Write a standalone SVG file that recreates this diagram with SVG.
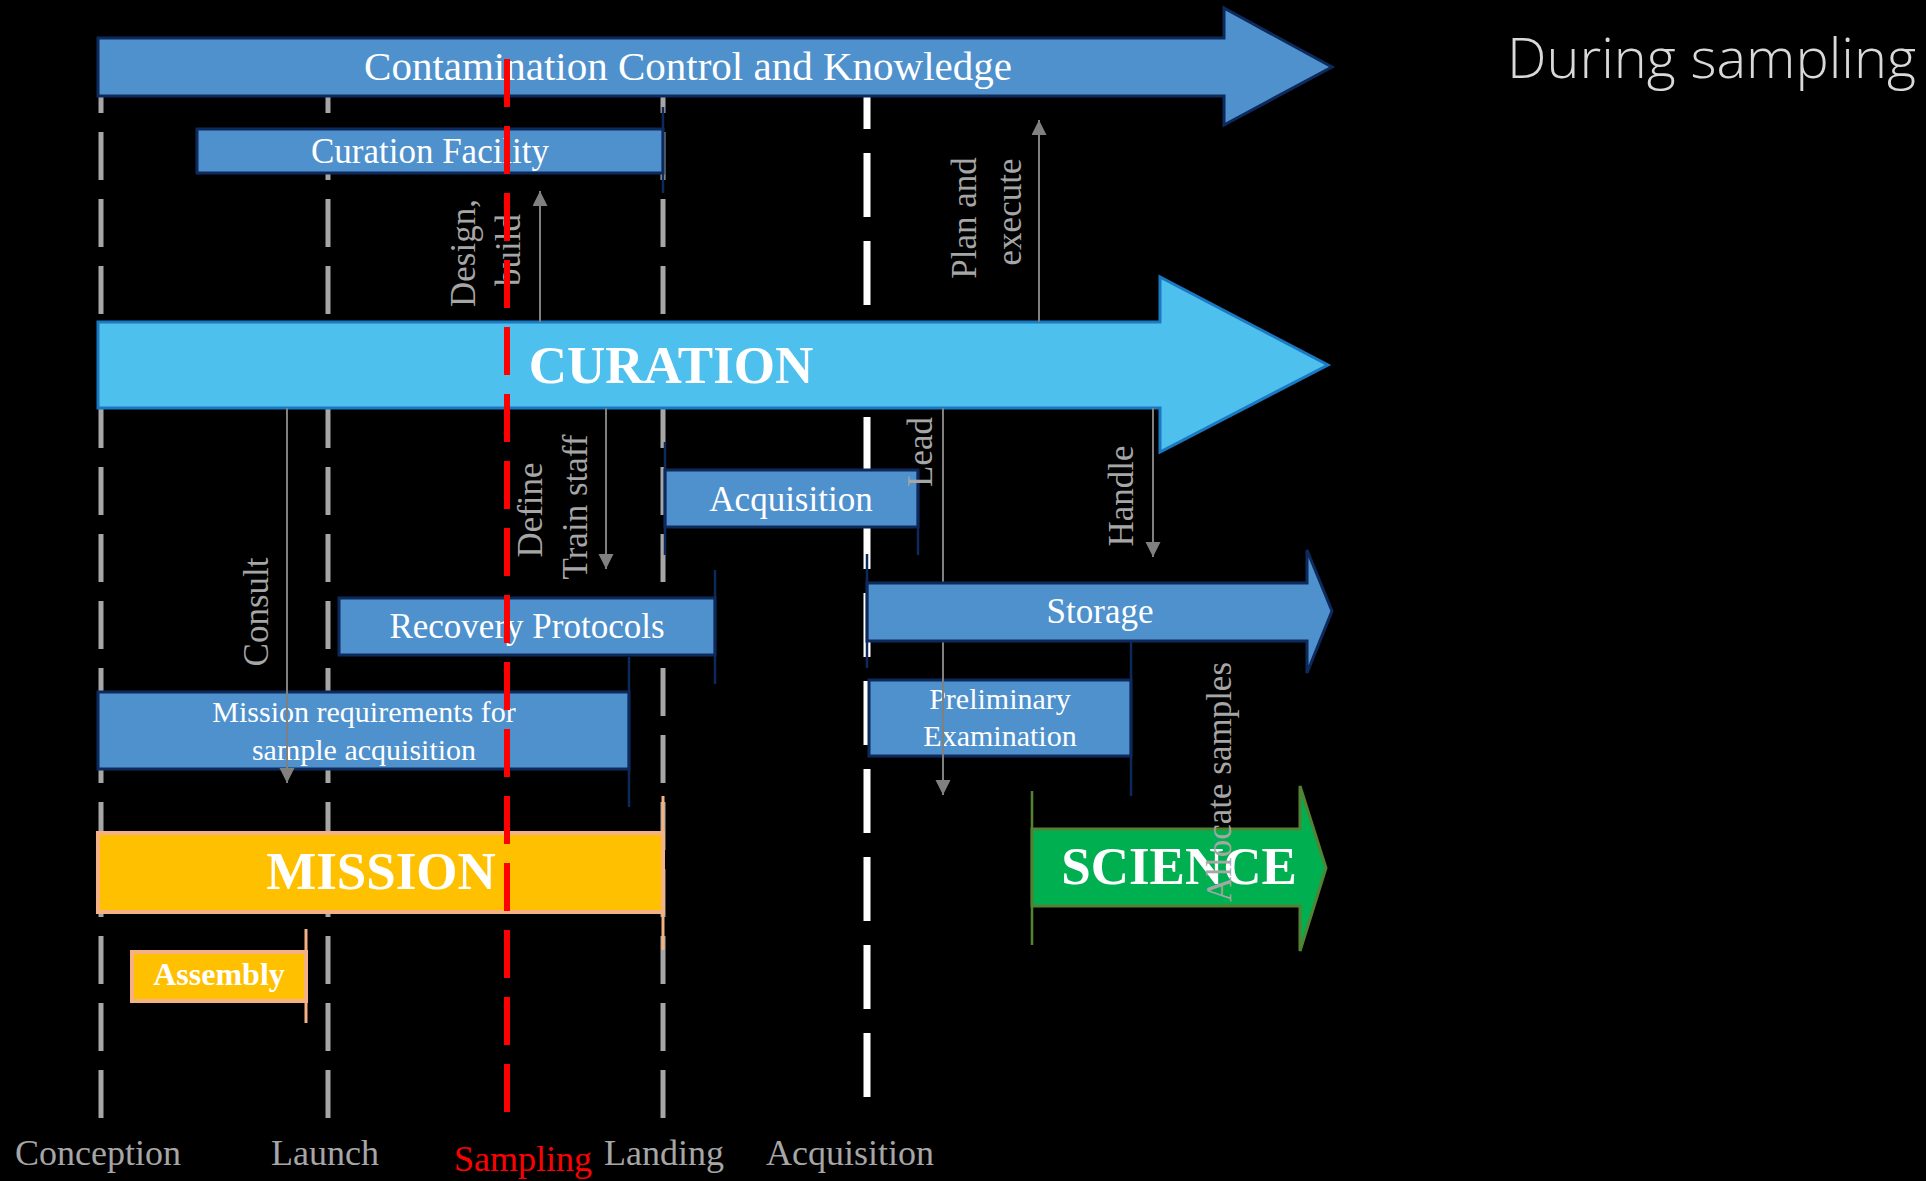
<svg xmlns="http://www.w3.org/2000/svg" width="1926" height="1181" viewBox="0 0 1926 1181">
<defs>
<style>
.serif{font-family:"Liberation Serif","Times New Roman",serif}
.box{fill:#4E91CD;stroke:#0E2A5C;stroke-width:3}
.btxt{font-family:"Liberation Serif",serif;fill:#FFFFFF;text-anchor:middle}
.big{font-family:"Liberation Serif",serif;font-weight:bold;font-size:53px;fill:#FFFFFF;text-anchor:middle}
.orange{fill:#FFC000;stroke:#F4B183;stroke-width:4}
.tick{stroke:#0E2A5C;stroke-width:2.5;fill:none}
.otick{stroke:#F4B183;stroke-width:3;fill:none}
.gtick{stroke:#548235;stroke-width:2.5;fill:none}
.gline{stroke:#A6A6A6;stroke-width:5;stroke-dasharray:48 19;fill:none}
.conn{stroke:#808080;stroke-width:2;fill:none;marker-end:url(#ah)}
.lbl{font-family:"Liberation Serif",serif;font-size:35px;fill:#A6A6A6;text-anchor:middle}
.tl{font-family:"Liberation Serif",serif;font-size:36px;fill:#A6A6A6;text-anchor:middle}
</style>
<marker id="ah" markerWidth="16" markerHeight="16" refX="15" refY="7.5" orient="auto" markerUnits="userSpaceOnUse">
<path d="M0,0 L15,7.5 L0,15 Z" fill="#808080"/>
</marker>
</defs>
<rect x="0" y="0" width="1926" height="1181" fill="#000000"/>

<g id="timeline-lines">
<line class="gline" x1="101" y1="65" x2="101" y2="1118"/>
<line class="gline" x1="328" y1="65" x2="328" y2="1118"/>
<line class="gline" x1="663" y1="65" x2="663" y2="1118"/>
<line x1="867" y1="65" x2="867" y2="1097" stroke="#FFFFFF" stroke-width="7" stroke-dasharray="64 24"/>
</g>

<g id="contamination">
<path d="M98,38 H1224 V8 L1332,67 L1224,125 V96 H98 Z" fill="#4E91CD" stroke="#0E2A5C" stroke-width="3"/>
<text class="btxt" x="688" y="80" font-size="41">Contamination Control and Knowledge</text>
</g>

<g id="curation-facility">
<rect class="box" x="197" y="129" width="466" height="44"/>
<line class="tick" x1="663" y1="107" x2="663" y2="193"/>
<text class="btxt" x="430" y="163" font-size="35">Curation Facility</text>
</g>

<g id="curation">
<path d="M98,322 H1160 V277 L1328,365 L1160,452 V408 H98 Z" fill="#4EC0EE" stroke="#1B78C2" stroke-width="3"/>
<text class="big" x="671" y="383">CURATION</text>
</g>

<g id="acquisition">
<rect class="box" x="665" y="470" width="253" height="57"/>
<line class="tick" x1="665" y1="442" x2="665" y2="555"/>
<line class="tick" x1="918" y1="470" x2="918" y2="555"/>
<text class="btxt" x="791" y="511" font-size="35">Acquisition</text>
</g>

<g id="recovery-protocols">
<rect class="box" x="339" y="598" width="376" height="57"/>
<line class="tick" x1="715" y1="570" x2="715" y2="684"/>
<text class="btxt" x="527" y="638" font-size="35">Recovery Protocols</text>
</g>

<g id="mission-requirements">
<rect class="box" x="98" y="692" width="531" height="77"/>
<line class="tick" x1="629" y1="657" x2="629" y2="807"/>
<text class="btxt" x="364" y="722" font-size="30">Mission requirements for</text>
<text class="btxt" x="364" y="760" font-size="30">sample acquisition</text>
</g>

<g id="preliminary-examination">
<rect class="box" x="869" y="680" width="262" height="76"/>
<line class="tick" x1="1131" y1="642" x2="1131" y2="796"/>
<text class="btxt" x="1000" y="709" font-size="30">Preliminary</text>
<text class="btxt" x="1000" y="746" font-size="30">Examination</text>
</g>

<g id="mission">
<rect class="orange" x="98" y="833" width="565" height="79"/>
<line class="otick" x1="663" y1="796" x2="663" y2="950"/>
<text class="big" x="381" y="889">MISSION</text>
</g>

<g id="assembly">
<rect class="orange" x="132" y="952" width="174" height="49"/>
<line class="otick" x1="306" y1="929" x2="306" y2="1023"/>
<text class="btxt" x="219" y="985" font-size="32" font-weight="bold">Assembly</text>
</g>

<g id="science">
<path d="M1032,829 H1300 V786 L1326,868 L1300,951 V906 H1032 Z" fill="#00B050" stroke="#548235" stroke-width="3"/>
<line class="gtick" x1="1032" y1="791" x2="1032" y2="945"/>
<text class="big" x="1179" y="884">SCIENCE</text>
</g>

<g id="connectors">
<line class="conn" x1="540" y1="322" x2="540" y2="191"/>
<text class="lbl" transform="translate(475,253) rotate(-90)">Design,</text>
<text class="lbl" transform="translate(520,250) rotate(-90)">build</text>

<line class="conn" x1="1039" y1="322" x2="1039" y2="120"/>
<text class="lbl" transform="translate(976,218) rotate(-90)">Plan and</text>
<text class="lbl" transform="translate(1021,212) rotate(-90)">execute</text>

<line class="conn" x1="287" y1="408" x2="287" y2="783"/>
<text class="lbl" transform="translate(268,612) rotate(-90)">Consult</text>

<line class="conn" x1="606" y1="408" x2="606" y2="569"/>
<text class="lbl" transform="translate(542,510) rotate(-90)">Define</text>
<text class="lbl" transform="translate(587,507) rotate(-90)">Train staff</text>

<line class="conn" x1="943" y1="408" x2="943" y2="795"/>
<text class="lbl" transform="translate(932,452) rotate(-90)">Lead</text>

<line class="conn" x1="1153" y1="408" x2="1153" y2="557"/>
<text class="lbl" transform="translate(1133,496) rotate(-90)">Handle</text>

<text class="lbl" transform="translate(1231,782) rotate(-90)">Allocate samples</text>
</g>

<g id="storage">
<path d="M867,583 H1307 V550 L1332,611 L1307,673 V641 H867 Z" fill="#4E91CD" stroke="#0E2A5C" stroke-width="3"/>
<line class="tick" x1="867" y1="554" x2="867" y2="668"/>
<text class="btxt" x="1100" y="623" font-size="35">Storage</text>
</g>

<g id="sampling-line">
<line x1="507" y1="59" x2="507" y2="1112" stroke="#FF0000" stroke-width="6" stroke-dasharray="48 19"/>
</g>

<g id="timeline-labels">
<text class="tl" x="98" y="1165">Conception</text>
<text class="tl" x="325" y="1165">Launch</text>
<text class="tl" x="523" y="1171" fill="#FF0000" style="fill:#FF0000">Sampling</text>
<text class="tl" x="664" y="1165">Landing</text>
<text class="tl" x="850" y="1165">Acquisition</text>
</g>

<g id="title">
<text x="1507" y="78" font-family="'Open Sans','Noto Sans',sans-serif" font-weight="300" font-size="56" fill="#D9D9D9" textLength="409" lengthAdjust="spacingAndGlyphs">During sampling</text>
</g>
</svg>
